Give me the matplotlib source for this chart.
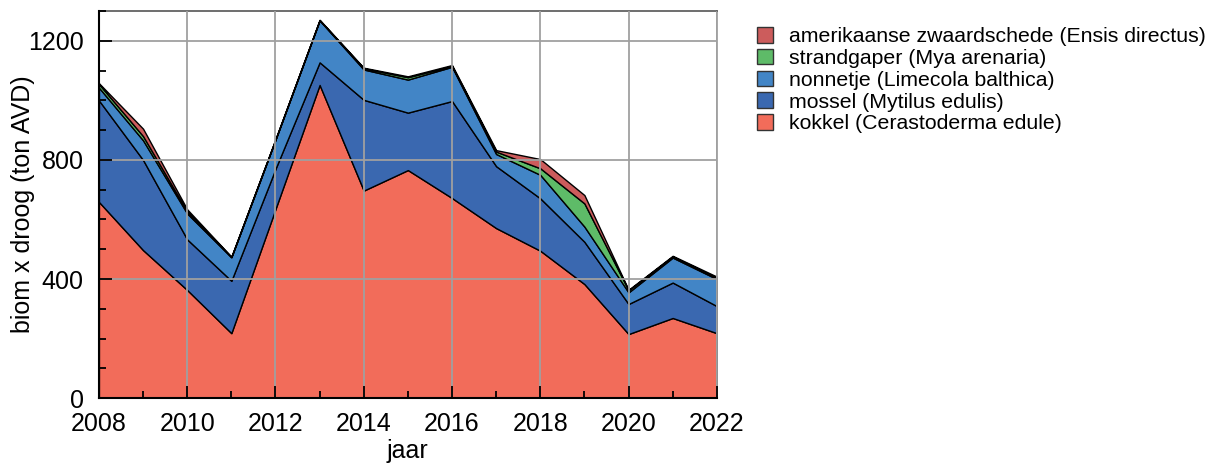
import matplotlib
matplotlib.use("Agg")
import matplotlib.pyplot as plt
from matplotlib.ticker import MultipleLocator
from matplotlib.patches import Patch

plt.rcParams['font.family'] = ['Liberation Sans', 'DejaVu Sans']

years = [2008, 2009, 2010, 2011, 2012, 2013, 2014, 2015, 2016, 2017, 2018, 2019, 2020, 2021, 2022]
kokkel = [659, 497, 363, 218, 635, 1052, 697, 766, 672, 571, 495, 383, 215, 269, 218]
mossel = [341, 303, 170, 176, 135, 76, 305, 193, 326, 208, 176, 142, 101, 119, 91]
nonnetje = [43, 66, 87, 79, 98, 141, 102, 111, 115, 41, 79, 51, 39, 84, 91]
strandgaper = [12, 14, 7, 1, 1, 1, 4, 8, 3, 8, 22, 78, 7, 4, 4]
zwaardschede = [3, 25, 7, 1, 1, 1, 2, 3, 3, 5, 31, 28, 2, 2, 4]

labels = ["kokkel (Cerastoderma edule)",
          "mossel (Mytilus edulis)",
          "nonnetje (Limecola balthica)",
          "strandgaper (Mya arenaria)",
          "amerikaanse zwaardschede (Ensis directus)"]
colors = ["#F26C5A", "#3A68B0", "#4285C6", "#5EBB68", "#CC5C5C"]

fig = plt.figure(figsize=(12.17, 4.65), dpi=100)
ax = fig.add_axes([0.0813, 0.144, 0.5077, 0.832])

ax.stackplot(years, kokkel, mossel, nonnetje, strandgaper, zwaardschede,
             colors=colors, edgecolor='black', linewidth=1.0, zorder=2)

ax.set_xlim(2008, 2022)
ax.set_ylim(0, 1300)
ax.xaxis.set_major_locator(MultipleLocator(2))
ax.xaxis.set_minor_locator(MultipleLocator(1))
ax.yaxis.set_major_locator(MultipleLocator(400))
ax.yaxis.set_minor_locator(MultipleLocator(100))
ax.tick_params(which='both', direction='in', top=False, right=False, labelsize=18, width=1.3)
ax.tick_params(which='major', length=9)
ax.tick_params(which='minor', length=5)
ax.tick_params(axis='y', which='major', pad=11)
ax.tick_params(axis='x', which='major', pad=10)
ax.grid(True, which='major', color='#A0A0A0', linewidth=1.3, zorder=3)
ax.set_axisbelow(False)

for s in ['left', 'bottom']:
    ax.spines[s].set_linewidth(1.5)
    ax.spines[s].set_zorder(4)
ax.spines['top'].set_color('#555555')
ax.spines['top'].set_linewidth(1.2)
ax.spines['right'].set_color('#A0A0A0')
ax.spines['right'].set_linewidth(1.3)

ax.set_xlabel("jaar", fontsize=18)
ax.set_ylabel("biom x droog (ton AVD)", fontsize=18)
ax.xaxis.set_label_coords(0.5, -0.105)
ax.yaxis.set_label_coords(-0.103, 0.5)

handles = [Patch(facecolor=c, edgecolor='#333333', linewidth=1.0) for c in colors]
leg = fig.legend(handles[::-1], labels[::-1], loc='upper left',
                 bbox_to_anchor=(0.615, 0.96), frameon=False, fontsize=15.3,
                 handlelength=0.75, handleheight=0.75, handletextpad=0.75,
                 labelspacing=0.12, borderaxespad=0)

fig.savefig("out.png", dpi=100)
